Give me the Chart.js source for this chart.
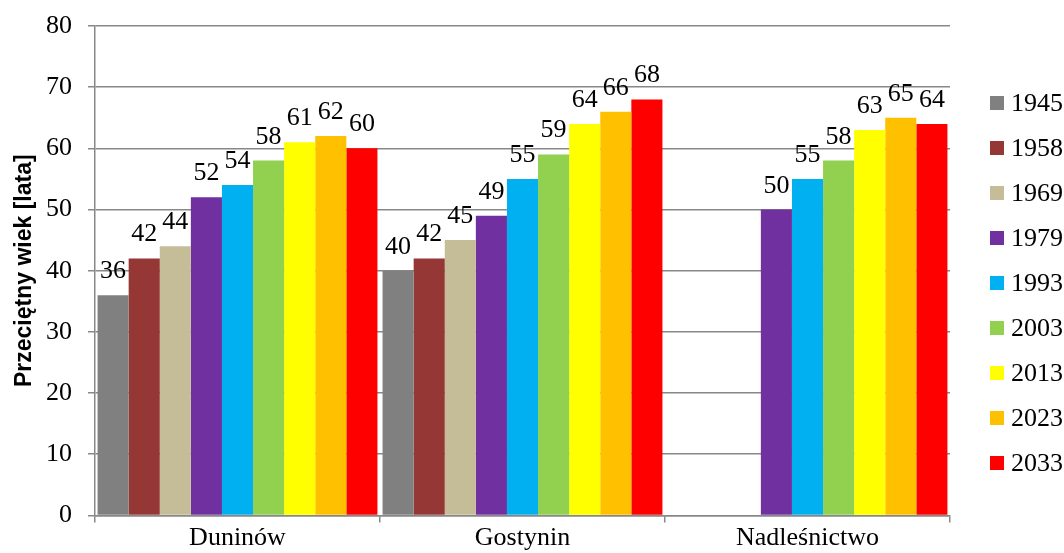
<!DOCTYPE html>
<html>
<head>
<meta charset="utf-8">
<script src="https://cdn.jsdelivr.net/npm/chart.js@4/dist/chart.umd.min.js"></script>
<style>
  html, body { margin: 0; padding: 0; background: #fff; }
  #wrap { width: 1064px; height: 553px; }
</style>
</head>
<body>
<div id="wrap"><canvas id="chart"></canvas></div>
<script>
const categories = ["Duninów", "Gostynin", "Nadleśnictwo"];
const years = ["1945", "1958", "1969", "1979", "1993", "2003", "2013", "2023", "2033"];
const colors = ["#808080", "#953735", "#C4BD97", "#7030A0", "#00B0F0", "#92D050", "#FFFF00", "#FFC000", "#FF0000"];

// one array per year: [Duninów, Gostynin, Nadleśnictwo]
const v1945 = [36, 40, null];
const v1958 = [42, 42, null];
const v1969 = [44, 45, null];
const v1979 = [52, 49, 50];
const v1993 = [54, 55, 55];
const v2003 = [58, 59, 58];
const v2013 = [61, 64, 63];
const v2023 = [62, 66, 65];
const v2033 = [60, 68, 64];
const seriesValues = [v1945, v1958, v1969, v1979, v1993, v2003, v2013, v2023, v2033];

const yTicks = [0, 10, 20, 30, 40, 50, 60, 70, 80];

const serif = "'Liberation Serif', 'Times New Roman', serif";

// value above each bar
const valueLabels = {
    id: "valueLabels",
    afterDatasetsDraw(chart) {
        const ctx = chart.ctx;
        ctx.save();
        ctx.font = "26px " + serif;
        ctx.fillStyle = "#000";
        ctx.textAlign = "center";
        ctx.textBaseline = "alphabetic";
        chart.data.datasets.forEach((ds, i) => {
            const meta = chart.getDatasetMeta(i);
            meta.data.forEach((bar, j) => {
                const v = ds.data[j];
                if (v === null || v === undefined) return;
                ctx.fillText(String(v), bar.x, bar.y - 17);
            });
        });
        ctx.restore();
    }
};

// legend on the right, drawn next to the plot
const sideLegend = {
    id: "sideLegend",
    afterDraw(chart) {
        const ctx = chart.ctx;
        const area = chart.chartArea;
        ctx.save();
        ctx.font = "26px " + serif;
        ctx.textBaseline = "middle";
        ctx.textAlign = "left";
        const x0 = area.right + 40;
        const y0 = 103;
        years.forEach((y, i) => {
            const cy = y0 + i * 45;
            ctx.fillStyle = colors[i];
            ctx.fillRect(x0, cy - 7, 14, 14);
            ctx.fillStyle = "#000";
            ctx.fillText(y, x0 + 21, cy + 1);
        });
        ctx.restore();
    }
};

const ctx = document.getElementById("chart").getContext("2d");
new Chart(ctx, {
    type: "bar",
    data: {
        labels: categories,
        datasets: years.map((y, i) => ({
            label: y,
            data: seriesValues[i],
            backgroundColor: colors[i],
            borderWidth: 0,
            categoryPercentage: 0.982,
            barPercentage: 1.0
        }))
    },
    options: {
        responsive: true,
        maintainAspectRatio: false,
        animation: false,
        layout: { padding: { top: 26, right: 114, left: 11, bottom: 0 } },
        plugins: {
            legend: { display: false },
            tooltip: { enabled: false }
        },
        scales: {
            x: {
                grid: {
                    offset: true,
                    drawOnChartArea: false,
                    drawTicks: true,
                    tickLength: 7,
                    color: "#888",
                    lineWidth: 1.5
                },
                border: { color: "#888", width: 1.5 },
                ticks: {
                    font: { family: serif, size: 26, lineHeight: 1.1 },
                    color: "#000",
                    padding: 1
                }
            },
            y: {
                min: 0,
                max: 80,
                afterBuildTicks(axis) {
                    axis.ticks = yTicks.map(v => ({ value: v }));
                },
                afterFit(axis) {
                    axis.width = 84;
                    axis.paddingTop = 0;
                    axis.paddingBottom = 0;
                },
                grid: {
                    color: "#888",
                    lineWidth: 1.5,
                    tickLength: 7
                },
                border: { color: "#888", width: 1.5 },
                ticks: {
                    font: { family: serif, size: 26 },
                    color: "#000",
                    padding: 16
                },
                title: {
                    display: true,
                    text: "Przeciętny wiek [lata]",
                    font: { family: "'Liberation Sans', Arial, sans-serif", size: 23, weight: "bold" },
                    color: "#000",
                    padding: { top: 0, bottom: 7 }
                }
            }
        }
    },
    plugins: [valueLabels, sideLegend]
});
</script>
</body>
</html>
